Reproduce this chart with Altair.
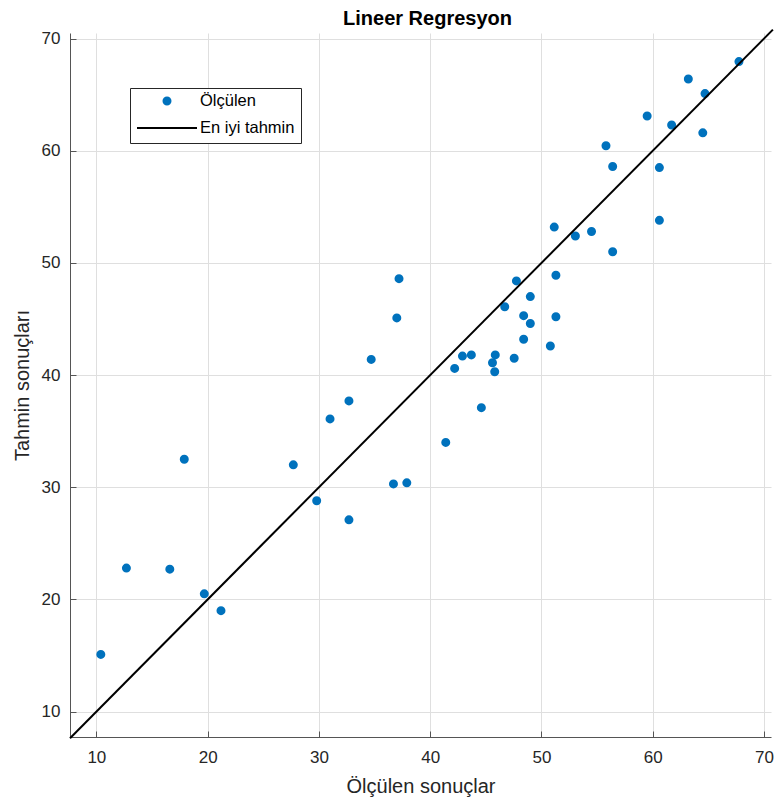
import altair as alt
import pandas as pd

olculen = [10.4, 12.7, 16.6, 17.9, 19.7, 21.2, 27.7, 29.8, 32.7, 31.0, 32.7, 34.7,
           37.0, 37.2, 36.7, 37.9, 41.4, 44.6, 42.2, 42.9, 43.7, 45.85, 45.6, 45.8,
           47.55, 48.4, 50.8, 46.7, 48.4, 49.0, 49.0, 51.3, 47.75, 51.3, 51.15, 53.05,
           54.5, 56.4, 60.6, 55.8, 56.4, 59.5, 60.6, 61.7, 63.2, 64.5, 64.7, 67.75]
tahmin = [15.1, 22.8, 22.7, 32.5, 20.5, 19.0, 32.0, 28.8, 27.1, 36.1, 37.7, 41.4,
          45.1, 48.6, 30.3, 30.4, 34.0, 37.1, 40.6, 41.7, 41.8, 41.8, 41.1, 40.3,
          41.5, 43.2, 42.6, 46.1, 45.3, 44.6, 47.0, 45.2, 48.4, 48.9, 53.2, 52.4,
          52.8, 51.0, 53.8, 60.45, 58.6, 63.1, 58.5, 62.3, 66.4, 61.6, 65.1, 67.95]

# Best-estimate line y = x
en_iyi_x = [7.63, 70.8]
en_iyi_y = [7.63, 70.8]

series = ["Ölçülen", "En iyi tahmin"]
ticks = [10, 20, 30, 40, 50, 60, 70]

df = pd.DataFrame({"olculen": olculen, "tahmin": tahmin, "seri": series[0]})
line_df = pd.DataFrame({"x": en_iyi_x, "y": en_iyi_y})

FONT = "Liberation Sans"
TXT = "#262626"
W, H = 701, 704

xs = alt.Scale(domain=[7.63, 70.63], nice=False, zero=False)
ys = alt.Scale(domain=[7.74, 70.5], nice=False, zero=False)


def make_legend():
    return alt.Legend(
        title=None, orient="none", legendX=60, legendY=55,
        fillColor="white", strokeColor=TXT, padding=6, rowPadding=10,
        clipHeight=14, labelOffset=2,
        labelFont=FONT, labelFontSize=16.5, labelColor="#000000",
        symbolStrokeWidth=2,
    )


points = alt.Chart(df).mark_point(opacity=1, strokeWidth=2).encode(
    x=alt.X("olculen:Q", scale=xs,
            axis=alt.Axis(values=ticks, title="Ölçülen sonuçlar", ticks=False,
                          labelPadding=12, titlePadding=11, grid=True)),
    y=alt.Y("tahmin:Q", scale=ys,
            axis=alt.Axis(values=ticks, title="Tahmin sonuçları", ticks=False,
                          labelPadding=10, titlePadding=9, grid=True)),
    fill=alt.Fill("seri:N", scale=alt.Scale(domain=series, range=["#0072BD", "#000000"]),
                  legend=make_legend()),
    stroke=alt.Stroke("seri:N", scale=alt.Scale(domain=series, range=["#0072BD", "#000000"]),
                      legend=make_legend()),
    shape=alt.Shape("seri:N", scale=alt.Scale(domain=series, range=["circle", "stroke"]),
                    legend=make_legend()),
    size=alt.Size("seri:N", scale=alt.Scale(domain=series, range=[49, 3600]),
                  legend=make_legend()),
)

line = alt.Chart(line_df).mark_line(color="black", strokeWidth=2, clip=False).encode(
    x=alt.X("x:Q", scale=xs,
            axis=alt.Axis(orient="top", offset=-H, values=ticks, labels=False, domain=False,
                          grid=False, ticks=True, tickSize=6, title=None)),
    y=alt.Y("y:Q", scale=ys,
            axis=alt.Axis(orient="right", offset=-W, values=ticks, labels=False, domain=False,
                          grid=False, ticks=True, tickSize=6, title=None)),
)

chart = alt.layer(points, line).resolve_axis(x="independent", y="independent").properties(
    width=W, height=H,
    title=alt.Title("Lineer Regresyon", font=FONT, fontSize=20, fontWeight="bold",
                    color="#000000", anchor="middle", baseline="alphabetic", offset=11,
                    frame="group", dy=30, dx=7),
    padding={"left": 62, "top": 25, "right": 5, "bottom": 60},
    autosize=alt.AutoSizeParams(type="none"),
).configure_view(stroke=None).configure_axis(
    labelFont=FONT, labelFontSize=17, labelColor=TXT,
    titleFont=FONT, titleFontSize=20, titleColor=TXT, titleFontWeight="normal",
    gridColor="#dfdfdf", gridWidth=1, domainColor="#555555", domainWidth=1,
    tickColor="#555555", tickWidth=1,
)

chart.save("out.html", embed_options={"renderer": "svg", "actions": False})
